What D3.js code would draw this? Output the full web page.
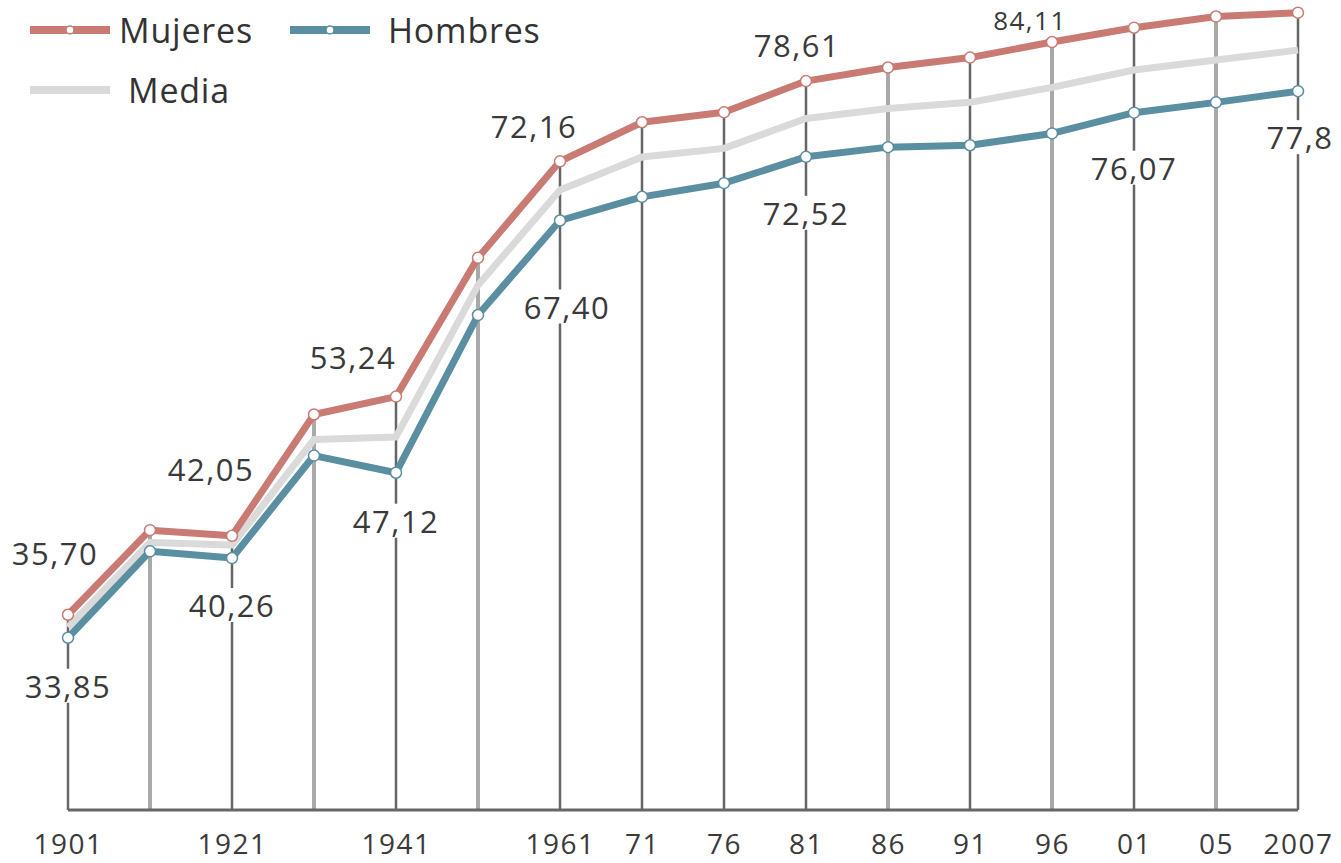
<!DOCTYPE html>
<html>
<head>
<meta charset="utf-8">
<script src="https://cdn.jsdelivr.net/npm/d3@7"></script>
<style>
  body { margin: 0; background: #fff; }
  svg { display: block; font-family: "Open Sans", sans-serif; }
</style>
</head>
<body>
<div class="canvas"></div>
<script>
// data
const years = ['1901', '1911', '1921', '1931', '1941', '1951', '1961', '71', '76', '81', '86', '91', '96', '01', '05', '2007'];
const tickLabels = ['1901', '', '1921', '', '1941', '', '1961', '71', '76', '81', '86', '91', '96', '01', '05', '2007'];
const mujeres = [35.70, 42.50, 42.05, 51.80, 53.24, 64.40, 72.16, 75.30, 76.10, 78.61, 79.70, 80.50, 81.75, 82.90, 83.80, 84.11];
const hombres = [33.85, 40.80, 40.26, 48.50, 47.12, 59.80, 67.40, 69.30, 70.40, 72.52, 73.30, 73.45, 74.40, 76.07, 76.90, 77.80];
const media = [34.70, 41.50, 41.30, 49.80, 50.00, 62.20, 69.85, 72.50, 73.20, 75.60, 76.40, 76.90, 78.10, 79.50, 80.30, 81.10];

const dims = { width: 1341, height: 863 };
const colors = { Mujeres: '#c97a72', Hombres: '#5a8ea1', Media: '#dadada' };

// which columns get the lighter, wider guide line
const lightCols = new Set([1, 3, 5, 10, 12, 14]);

// value labels: series, column, decimals, offset from the point
const notes = [
  { s: 'Mujeres', i: 0, dec: 2, dx: -13, dy: -62 },
  { s: 'Hombres', i: 0, dec: 2, dx: 0, dy: 48 },
  { s: 'Mujeres', i: 2, dec: 2, dx: -21, dy: -67 },
  { s: 'Hombres', i: 2, dec: 2, dx: 0, dy: 47 },
  { s: 'Mujeres', i: 4, dec: 2, dx: -43, dy: -40 },
  { s: 'Hombres', i: 4, dec: 2, dx: 0, dy: 48 },
  { s: 'Mujeres', i: 6, dec: 2, dx: -26, dy: -35 },
  { s: 'Hombres', i: 6, dec: 2, dx: 7, dy: 86 },
  { s: 'Mujeres', i: 9, dec: 2, dx: -9, dy: -36 },
  { s: 'Hombres', i: 9, dec: 2, dx: 0, dy: 56 },
  { s: 'Hombres', i: 13, dec: 2, dx: 0, dy: 55 },
  { s: 'Hombres', i: 15, dec: 1, dx: 2, dy: 46 },
  { s: 'Mujeres', i: 15, dec: 2, dx: -268, dy: 7, size: 26 }
];

const values = { Mujeres: mujeres, Hombres: hombres, Media: media };

const svg = d3.select('.canvas')
  .append('svg')
  .attr('width', dims.width)
  .attr('height', dims.height);

// scales
const x = d3.scalePoint()
  .domain(years)
  .range([68, 1298]);

const y = d3.scaleLinear()
  .domain([20, 80])
  .range([810, 63.8]);

// vertical guide lines from the base up to the top series
svg.append('g')
  .selectAll('line')
  .data(years)
  .enter()
  .append('line')
  .attr('x1', d => x(d))
  .attr('x2', d => x(d))
  .attr('y1', y(20))
  .attr('y2', (d, i) => y(mujeres[i]))
  .attr('stroke', (d, i) => lightCols.has(i) ? '#a9a9a9' : '#666')
  .attr('stroke-width', (d, i) => lightCols.has(i) ? 4 : 2.5);

// bottom axis line and labels
const xAxis = d3.axisBottom(x)
  .tickSize(0)
  .tickPadding(24)
  .tickFormat((d, i) => tickLabels[i]);

const axisG = svg.append('g')
  .attr('transform', `translate(0, ${y(20)})`)
  .call(xAxis);

axisG.select('.domain')
  .attr('d', `M${x(years[0])},0H${x(years[years.length - 1])}`)
  .attr('stroke', '#666')
  .attr('stroke-width', 3);

axisG.selectAll('text')
  .attr('font-family', '"Open Sans", sans-serif')
  .attr('font-size', 28)
  .attr('letter-spacing', 1.5)
  .attr('fill', '#3a3a3a');

// value labels
const fmt = (v, dec) => v.toFixed(dec).replace('.', ',');
const noteG = svg.append('g');
const noteItems = notes.map(n => ({
  text: fmt(values[n.s][n.i], n.dec),
  x: x(years[n.i]) + n.dx,
  y: y(values[n.s][n.i]) + n.dy,
  size: n.size || 31
}));

// series lines
const line = d3.line()
  .x((d, i) => x(years[i]))
  .y(d => y(d));

['Media', 'Hombres', 'Mujeres'].forEach(name => {
  svg.append('path')
    .datum(values[name])
    .attr('d', line)
    .attr('fill', 'none')
    .attr('stroke', colors[name])
    .attr('stroke-width', 7)
    .attr('stroke-linejoin', 'round');

  if (name !== 'Media') {
    svg.append('g')
      .selectAll('circle')
      .data(values[name])
      .enter()
      .append('circle')
      .attr('cx', (d, i) => x(years[i]))
      .attr('cy', d => y(d))
      .attr('r', 5.5)
      .attr('fill', '#fff')
      .attr('stroke', colors[name])
      .attr('stroke-width', 1.5);
  }
});

const texts = noteG.selectAll('text')
  .data(noteItems)
  .enter()
  .append('text')
  .attr('x', d => d.x)
  .attr('y', d => d.y)
  .attr('text-anchor', 'middle')
  .attr('dominant-baseline', 'central')
  .attr('font-size', d => d.size)
  .attr('letter-spacing', 1.5)
  .attr('fill', '#3a3a3a')
  .text(d => d.text);

// white box behind each label (it interrupts the guide lines)
texts.each(function() {
  const b = this.getBBox();
  noteG.insert('rect', 'text')
    .attr('x', b.x - 4)
    .attr('y', b.y + 4)
    .attr('width', b.width + 8)
    .attr('height', b.height - 8)
    .attr('fill', '#fff');
});
noteG.raise();

// legend
const legend = [
  { name: 'Mujeres', x: 30, y: 30, tx: 119 },
  { name: 'Hombres', x: 290, y: 30, tx: 388 },
  { name: 'Media', x: 30, y: 90, tx: 128 }
];

const legendG = svg.append('g');
legend.forEach(l => {
  legendG.append('line')
    .attr('x1', l.x).attr('x2', l.x + 80)
    .attr('y1', l.y).attr('y2', l.y)
    .attr('stroke', colors[l.name])
    .attr('stroke-width', 8);
  if (l.name !== 'Media') {
    legendG.append('circle')
      .attr('cx', l.x + 40).attr('cy', l.y)
      .attr('r', 4)
      .attr('fill', '#fff')
      .attr('stroke', colors[l.name])
      .attr('stroke-width', 1.5);
  }
  legendG.append('text')
    .attr('x', l.tx)
    .attr('y', l.y)
    .attr('dominant-baseline', 'central')
    .attr('font-size', 34)
    .attr('letter-spacing', 0.8)
    .attr('fill', '#333')
    .text(l.name);
});
</script>
</body>
</html>
